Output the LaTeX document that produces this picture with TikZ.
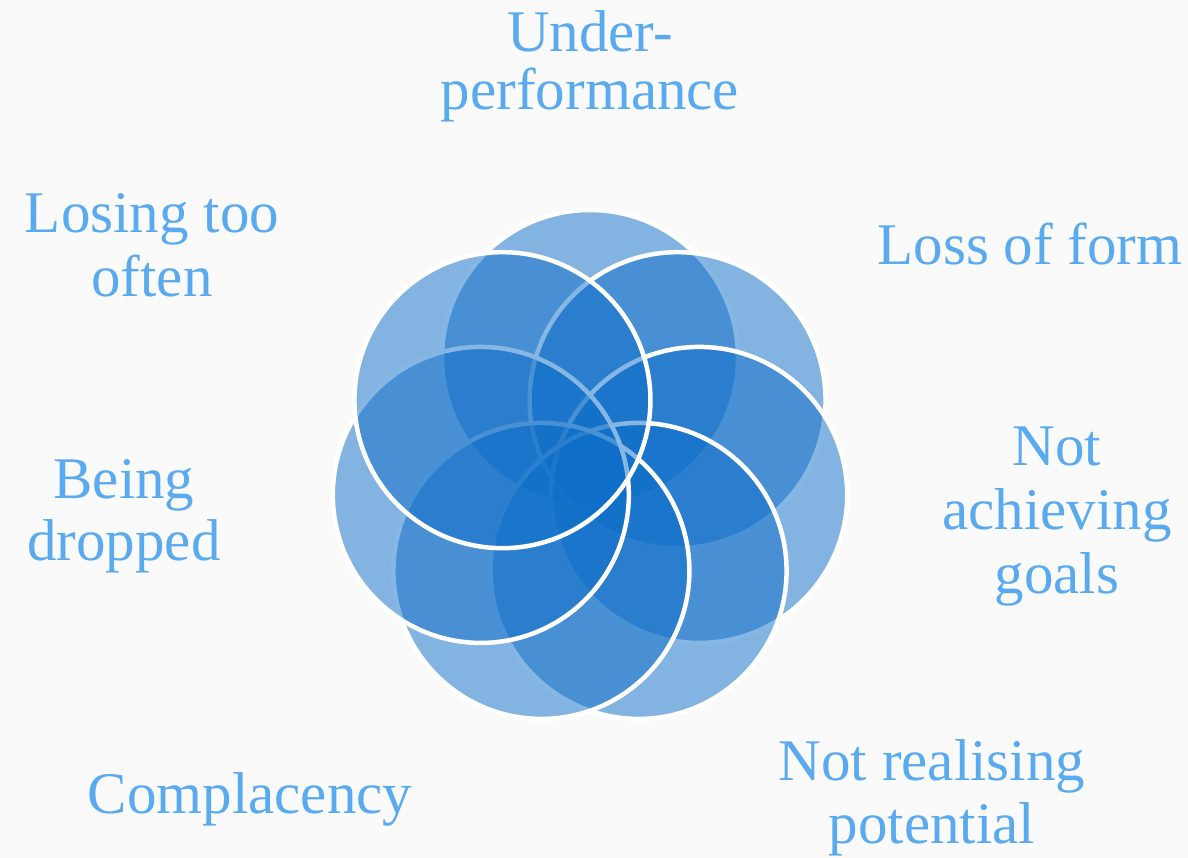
\documentclass[tikz,border=0pt]{standalone}
\usepackage{fontspec}
\setmainfont{Liberation Serif}
\definecolor{petalblue}{RGB}{14,110,200}
\definecolor{labelblue}{RGB}{90,170,240}
\definecolor{paper}{RGB}{250,250,250}
\begin{document}
\begin{tikzpicture}[x=1pt,y=-1pt,
  petal/.style={circle,minimum size=296pt,inner sep=0pt,outer sep=0pt,
    fill=petalblue,fill opacity=0.5,draw=white,draw opacity=1,line width=4.5pt},
  label/.style={anchor=base,align=center,inner sep=0pt,text=labelblue,
    font=\fontsize{59}{#1}\selectfont},
  label/.default=63]
  % page and background
  \useasboundingbox[fill=paper] (0,0) rectangle (1188,858);
  % seven overlapping circles, drawn clockwise from the top
  \foreach \i in {0,...,6}{
    \pgfmathsetmacro{\ang}{90-\i*360/7}
    \node[petal] (c\i) at ({590+112*cos(\ang)},{470-112*sin(\ang)}) {};
  }
  % labels around the ring (positions are the baselines of their last lines)
  \node[label=58] (under) at (590,110) {Under-\\performance};
  \node[label] (loss) at (1030,265) {Loss of form};
  \node[label=64] (goals) at (1057,593) {Not\\achieving\\goals};
  \node[label=63] (potential) at (932,843) {Not realising\\potential};
  \node[label] (compl) at (250,813) {Complacency};
  \node[label=62] (dropped) at (124,560) {Being\\dropped};
  \node[label=64] (losing) at (152,297) {Losing too\\often};
\end{tikzpicture}
\end{document}
